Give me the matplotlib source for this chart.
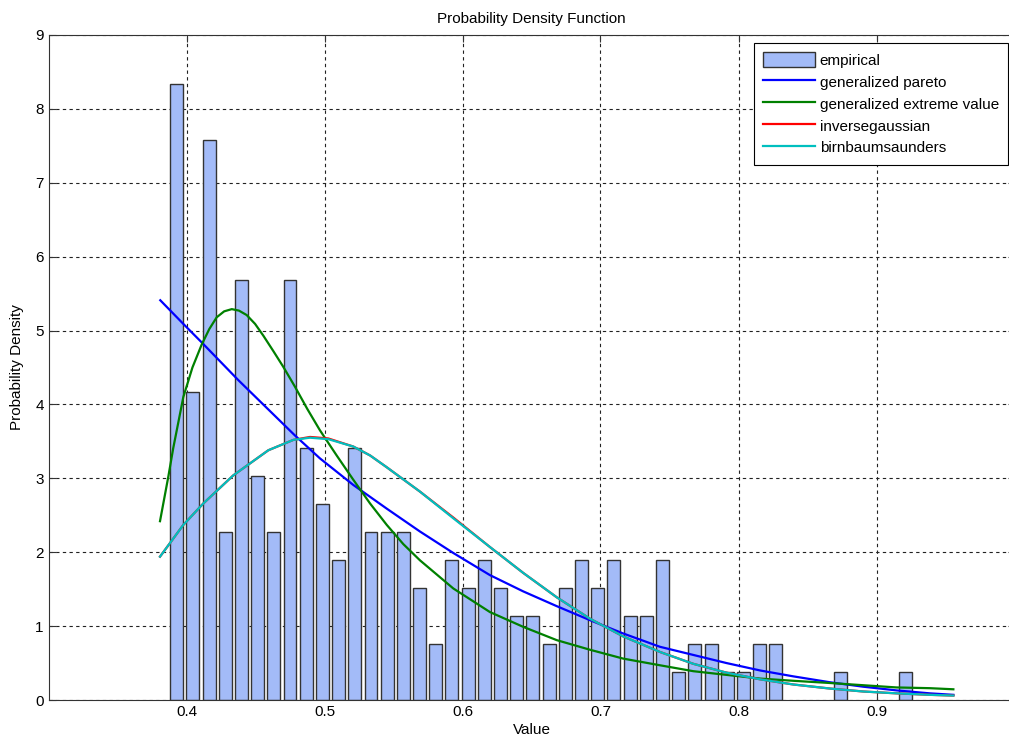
import numpy as np
import matplotlib
matplotlib.use('Agg')
import matplotlib.pyplot as plt

plt.rcParams['font.family'] = ['Liberation Sans', 'DejaVu Sans']

# histogram counts per bin (empirical), bins between bin_lo and bin_hi
counts = [22, 11, 20, 6, 15, 8, 6, 15, 9, 7, 5, 9, 6, 6, 6, 4, 2, 5, 4, 5, 4, 3, 3,
          2, 4, 5, 4, 5, 3, 3, 5, 1, 2, 2, 1, 1, 2, 2, 0, 0, 0, 1, 0, 0, 0, 1]
bin_lo = 0.3870
bin_hi = 0.9268

# fitted curves
gp_x = [0.381, 0.3977, 0.411, 0.4375, 0.4786, 0.4967, 0.5209, 0.5451, 0.5692, 0.5933,
        0.6199, 0.644, 0.6683, 0.6924, 0.7165, 0.7431, 0.7672, 0.7913, 0.8156, 0.8397,
        0.8663, 0.8904, 0.9145, 0.9386, 0.9557]
gp_y = [5.41, 5.09, 4.84, 4.33, 3.58, 3.27, 2.91, 2.59, 2.28, 1.99,
        1.69, 1.47, 1.27, 1.08, 0.90, 0.72, 0.61, 0.50, 0.40, 0.32,
        0.24, 0.18, 0.13, 0.09, 0.07]

gev_x = [0.3808, 0.3832, 0.3868, 0.3904, 0.3977, 0.4043, 0.411, 0.4165, 0.4219, 0.4273,
         0.4328, 0.438, 0.4436, 0.4497, 0.4557, 0.463, 0.4701, 0.4786, 0.4875, 0.4967,
         0.5088, 0.5209, 0.533, 0.5451, 0.5571, 0.5692, 0.5933, 0.6199, 0.644, 0.6683,
         0.6924, 0.7165, 0.7431, 0.7672, 0.7913, 0.8156, 0.8397, 0.8663, 0.8904, 0.9145,
         0.9386, 0.9557]
gev_y = [2.42, 2.66, 3.02, 3.41, 4.10, 4.50, 4.81, 5.02, 5.18, 5.26,
         5.29, 5.27, 5.21, 5.09, 4.93, 4.72, 4.51, 4.24, 3.94, 3.65,
         3.31, 2.98, 2.66, 2.37, 2.11, 1.89, 1.51, 1.19, 0.99, 0.81,
         0.68, 0.56, 0.47, 0.39, 0.34, 0.29, 0.26, 0.23, 0.20, 0.17,
         0.16, 0.145]

bs_x = [0.3808, 0.3977, 0.4122, 0.4339, 0.4593, 0.4774, 0.4895, 0.5027, 0.5209, 0.5330,
        0.5451, 0.5692, 0.5933, 0.6199, 0.644, 0.6683, 0.6924, 0.7165, 0.7431, 0.7672,
        0.7913, 0.8156, 0.8397, 0.8663, 0.8904, 0.9145, 0.9386, 0.9557]
bs_y = [1.94, 2.37, 2.66, 3.04, 3.38, 3.52, 3.55, 3.53, 3.43, 3.31,
        3.15, 2.82, 2.46, 2.07, 1.72, 1.39, 1.10, 0.86, 0.65, 0.49,
        0.37, 0.28, 0.21, 0.155, 0.115, 0.09, 0.07, 0.06]

# inverse gaussian sits almost exactly under birnbaum-saunders
ig_y = [1.94, 2.37, 2.66, 3.04, 3.38, 3.52, 3.56, 3.54, 3.43, 3.31,
        3.15, 2.82, 2.47, 2.07, 1.72, 1.39, 1.10, 0.86, 0.65, 0.49,
        0.37, 0.28, 0.21, 0.155, 0.115, 0.09, 0.07, 0.06]

counts = np.array(counts, dtype=float)
edges = np.linspace(bin_lo, bin_hi, len(counts) + 1)
centers = (edges[:-1] + edges[1:]) / 2
bw = edges[1] - edges[0]
density = counts / (counts.sum() * bw)
keep = counts > 0

fig = plt.figure(figsize=(10.09, 7.42), dpi=100)
ax = fig.add_axes([48.5 / 1009, 1 - 700 / 742, 966 / 1009, 665 / 742])

h_emp = ax.bar(centers[keep], density[keep], width=bw * 0.8, color='#a3bbf8',
               edgecolor='#333333', linewidth=1.0, label='empirical', zorder=2)
h_gp, = ax.plot(gp_x, gp_y, color='#0000ff', lw=1.6, label='generalized pareto', zorder=3)
h_gev, = ax.plot(gev_x, gev_y, color='#008000', lw=1.6, label='generalized extreme value', zorder=3)
h_ig, = ax.plot(bs_x, ig_y, color='#ff0000', lw=1.6, label='inversegaussian', zorder=3)
h_bs, = ax.plot(bs_x, bs_y, color='#00bfbf', lw=1.6, label='birnbaumsaunders', zorder=3)

ax.set_xlim(0.3, 1.0)
ax.set_ylim(0, 9)
ax.set_xticks([0.4, 0.5, 0.6, 0.7, 0.8, 0.9])
ax.set_xticklabels(['0.4', '0.5', '0.6', '0.7', '0.8', '0.9'])
ax.set_yticks(range(10))

ax.set_axisbelow(True)
ax.grid(True, color='#222222', linestyle=(0, (3, 3)), linewidth=0.8)
ax.tick_params(direction='in', length=5, labelsize=11, top=True, right=True,
               color='#333333')
for s in ax.spines.values():
    s.set_color('#333333')

ax.set_title('Probability Density Function', fontsize=11, pad=9)
ax.set_xlabel('Value', fontsize=11, labelpad=3)
ax.set_ylabel('Probability Density', fontsize=11, labelpad=8)

leg = ax.legend([h_emp, h_gp, h_gev, h_ig, h_bs],
                ['empirical', 'generalized pareto', 'generalized extreme value',
                 'inversegaussian', 'birnbaumsaunders'],
                loc='upper right', bbox_to_anchor=(1008 / 1009, 1 - 43 / 742),
                bbox_transform=fig.transFigure, borderaxespad=0, fancybox=False,
                framealpha=1, edgecolor='black', fontsize=11, handlelength=3.4,
                handleheight=1.1, handletextpad=0.3, labelspacing=0.42,
                borderpad=0.6)
leg.get_frame().set_linewidth(0.8)

fig.savefig('out.png', dpi=100)
